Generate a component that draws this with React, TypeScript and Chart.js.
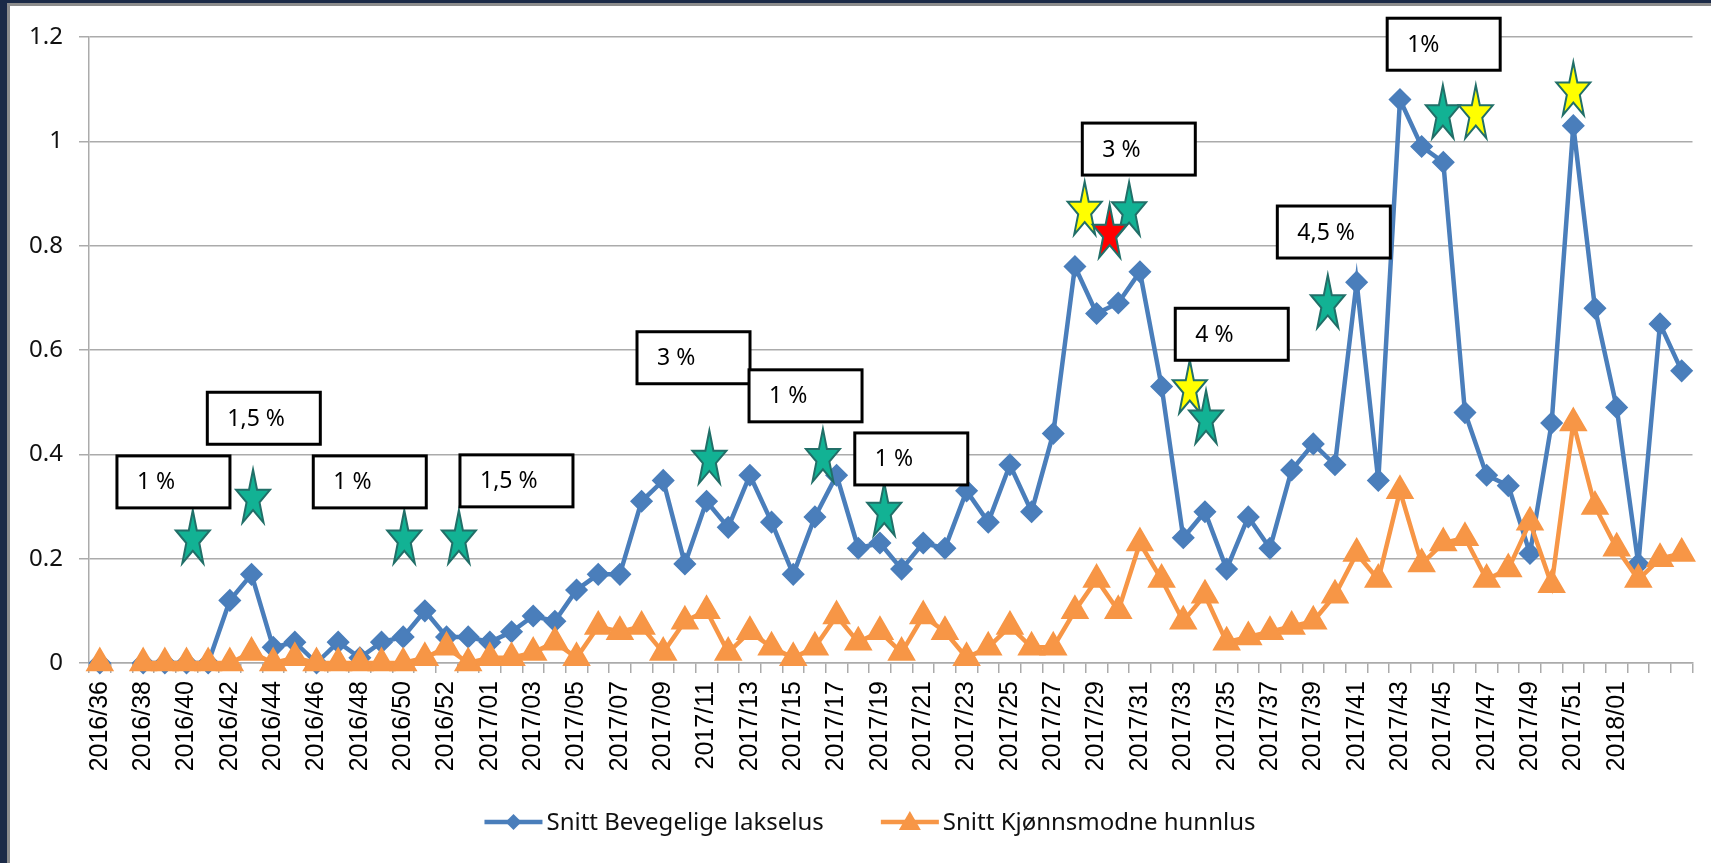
import React, { useEffect, useRef } from 'react';
import { Chart, registerables } from 'chart.js';

Chart.register(...registerables);

// ---- data ----
const WEEKS = [
  '2016/36', '2016/37', '2016/38', '2016/39', '2016/40', '2016/41', '2016/42', '2016/43', '2016/44', '2016/45',
  '2016/46', '2016/47', '2016/48', '2016/49', '2016/50', '2016/51', '2016/52', '2016/53',
  '2017/01', '2017/02', '2017/03', '2017/04', '2017/05', '2017/06', '2017/07', '2017/08', '2017/09', '2017/10',
  '2017/11', '2017/12', '2017/13', '2017/14', '2017/15', '2017/16', '2017/17', '2017/18', '2017/19', '2017/20',
  '2017/21', '2017/22', '2017/23', '2017/24', '2017/25', '2017/26', '2017/27', '2017/28', '2017/29', '2017/30',
  '2017/31', '2017/32', '2017/33', '2017/34', '2017/35', '2017/36', '2017/37', '2017/38', '2017/39', '2017/40',
  '2017/41', '2017/42', '2017/43', '2017/44', '2017/45', '2017/46', '2017/47', '2017/48', '2017/49', '2017/50',
  '2017/51', '2017/52', '2018/01', '2018/02', '2018/03', '2018/04',
];
// last week whose label is printed on the axis
const LAST_LABELLED = '2018/01';

const BEVEGELIGE = [
  0, null, 0, 0, 0, 0, 0.12, 0.17, 0.03, 0.04,
  0, 0.04, 0.01, 0.04, 0.05, 0.10, 0.05, 0.05, 0.04, 0.06,
  0.09, 0.08, 0.14, 0.17, 0.17, 0.31, 0.35, 0.19, 0.31, 0.26,
  0.36, 0.27, 0.17, 0.28, 0.36, 0.22, 0.23, 0.18, 0.23, 0.22,
  0.33, 0.27, 0.38, 0.29, 0.44, 0.76, 0.67, 0.69, 0.75, 0.53,
  0.24, 0.29, 0.18, 0.28, 0.22, 0.37, 0.42, 0.38, 0.73, 0.35,
  1.08, 0.99, 0.96, 0.48, 0.36, 0.34, 0.21, 0.46, 1.03, 0.68,
  0.49, 0.19, 0.65, 0.56,
];

const KJONNSMODNE = [
  0, null, 0, 0, 0, 0, 0, 0.02, 0, 0.01,
  0, 0, 0, 0, 0, 0.01, 0.03, 0, 0.01, 0.01,
  0.02, 0.04, 0.01, 0.07, 0.06, 0.07, 0.02, 0.08, 0.10, 0.02,
  0.06, 0.03, 0.01, 0.03, 0.09, 0.04, 0.06, 0.02, 0.09, 0.06,
  0.01, 0.03, 0.07, 0.03, 0.03, 0.10, 0.16, 0.10, 0.23, 0.16,
  0.08, 0.13, 0.04, 0.05, 0.06, 0.07, 0.08, 0.13, 0.21, 0.16,
  0.33, 0.19, 0.23, 0.24, 0.16, 0.18, 0.27, 0.15, 0.46, 0.30,
  0.22, 0.16, 0.20, 0.21,
];

const SERIES_NAMES = ['Snitt Bevegelige lakselus', 'Snitt Kjønnsmodne hunnlus'];

// annotation boxes: text, anchor (top-left) in category index / value units
const NOTE_TEXTS = ['1 %', '1,5 %', '1 %', '1,5 %', '3 %', '1 %', '1 %', '3 %', '4 %', '4,5 %', '1%'];
const NOTE_X = [0.79, 4.96, 9.85, 16.62, 24.79, 29.96, 34.84, 45.34, 49.63, 54.34, 59.41];
const NOTE_Y = [0.397, 0.519, 0.397, 0.399, 0.635, 0.562, 0.441, 1.035, 0.68, 0.876, 1.236];

// star markers: centre in category index / value units, and kind
const STAR_X = [4.29, 7.07, 14.05, 16.57, 28.13, 33.37, 36.2, 45.45, 47.5, 46.6, 50.3, 51.05, 56.67, 61.98, 63.5, 68.0];
const STAR_Y = [0.242, 0.32, 0.242, 0.242, 0.395, 0.398, 0.295, 0.872, 0.871, 0.828, 0.53, 0.472, 0.693, 1.057, 1.057, 1.101];
const STAR_KIND = ['g', 'g', 'g', 'g', 'g', 'g', 'g', 'y', 'g', 'r', 'y', 'g', 'g', 'g', 'y', 'y'];

// ---- styles ----
const BLUE = '#4a7ebb';
const ORANGE = '#f79646';
const GRID = '#ababab';
const STAR_FILL: Record<string, string> = { g: '#12b294', y: '#ffff00', r: '#ff0000' };
const STAR_EDGE = '#216f68';
const TEXT_FONT = '"Noto Sans", "Open Sans", sans-serif';

function drawStar(ctx: CanvasRenderingContext2D, cx: number, cy: number, w: number, h: number, fill: string) {
  const rx = w / 1.902;
  const ry = h / 1.809;
  const ocx = cx;
  const ocy = cy - h / 2 + ry;
  ctx.beginPath();
  for (let k = 0; k < 10; k++) {
    const ang = -Math.PI / 2 + (k * Math.PI) / 5;
    const r = k % 2 === 0 ? 1 : 0.382;
    const px = ocx + Math.cos(ang) * rx * r;
    const py = ocy + Math.sin(ang) * ry * r;
    if (k === 0) ctx.moveTo(px, py);
    else ctx.lineTo(px, py);
  }
  ctx.closePath();
  ctx.fillStyle = fill;
  ctx.fill();
  ctx.lineWidth = 2;
  ctx.strokeStyle = STAR_EDGE;
  ctx.stroke();
}

const notesPlugin = {
  id: 'notes',
  afterDraw(chart: any) {
    const { ctx } = chart;
    const xs = chart.scales.x;
    const ys = chart.scales.y;
    ctx.save();
    STAR_X.forEach((sx, i) => {
      drawStar(ctx, xs.getPixelForValue(sx), ys.getPixelForValue(STAR_Y[i]), 34, 53, STAR_FILL[STAR_KIND[i]]);
    });
    NOTE_TEXTS.forEach((t, i) => {
      const bx = xs.getPixelForValue(NOTE_X[i]);
      const by = ys.getPixelForValue(NOTE_Y[i]);
      ctx.fillStyle = '#ffffff';
      ctx.fillRect(bx, by, 113, 52);
      ctx.lineWidth = 3;
      ctx.strokeStyle = '#000000';
      ctx.strokeRect(bx, by, 113, 52);
      ctx.fillStyle = '#000000';
      ctx.font = `23px ${TEXT_FONT}`;
      ctx.textBaseline = 'middle';
      ctx.textAlign = 'left';
      ctx.fillText(t, bx + 20, by + 27);
    });
    ctx.restore();
  },
};

const legendPlugin = {
  id: 'customLegend',
  afterDraw(chart: any) {
    const { ctx } = chart;
    ctx.save();
    ctx.font = `24px ${TEXT_FONT}`;
    const lineLen = 58;
    const gapText = 4;
    const gapItems = 57;
    const widths = SERIES_NAMES.map((n) => lineLen + gapText + ctx.measureText(n).width);
    const total = widths[0] + gapItems + widths[1];
    let x = 860 - total / 2;
    const y = 816;
    const colors = [BLUE, ORANGE];
    SERIES_NAMES.forEach((name, i) => {
      ctx.strokeStyle = colors[i];
      ctx.fillStyle = colors[i];
      ctx.lineWidth = 4.5;
      ctx.beginPath();
      ctx.moveTo(x, y);
      ctx.lineTo(x + lineLen, y);
      ctx.stroke();
      const mx = x + lineLen / 2;
      ctx.beginPath();
      if (i === 0) {
        ctx.moveTo(mx - 8, y);
        ctx.lineTo(mx, y - 8);
        ctx.lineTo(mx + 8, y);
        ctx.lineTo(mx, y + 8);
      } else {
        ctx.moveTo(mx, y - 11);
        ctx.lineTo(mx + 11, y + 8);
        ctx.lineTo(mx - 11, y + 8);
      }
      ctx.closePath();
      ctx.fill();
      ctx.fillStyle = '#111111';
      ctx.textBaseline = 'middle';
      ctx.textAlign = 'left';
      ctx.fillText(name, x + lineLen + gapText, y + 1);
      x += widths[i] + gapItems;
    });
    ctx.restore();
  },
};

export default function App() {
  const ref = useRef<HTMLCanvasElement>(null);

  useEffect(() => {
    document.body.style.margin = '0';
    const lastLabelled = WEEKS.indexOf(LAST_LABELLED);
    const chart = new Chart(ref.current as HTMLCanvasElement, {
      type: 'line',
      data: {
        labels: WEEKS,
        datasets: [
          {
            label: SERIES_NAMES[0],
            data: BEVEGELIGE,
            borderColor: BLUE,
            backgroundColor: BLUE,
            borderWidth: 4.5,
            pointStyle: 'rectRot',
            pointRadius: 10.5,
            pointBorderWidth: 1.5,
            pointBackgroundColor: BLUE,
            pointBorderColor: BLUE,
            tension: 0,
            spanGaps: false,
            clip: false,
            order: 2,
          },
          {
            label: SERIES_NAMES[1],
            data: KJONNSMODNE,
            borderColor: ORANGE,
            backgroundColor: ORANGE,
            borderWidth: 4.5,
            pointStyle: 'triangle',
            pointRadius: 15,
            pointBorderWidth: 1.5,
            pointBackgroundColor: ORANGE,
            pointBorderColor: ORANGE,
            tension: 0,
            spanGaps: false,
            clip: false,
            order: 1,
          },
        ],
      } as any,
      options: {
        responsive: false,
        animation: false,
        devicePixelRatio: 1,
        layout: { padding: { left: 0, right: 18.5, top: 31, bottom: 80 } },
        plugins: { legend: { display: false }, tooltip: { enabled: false } },
        scales: {
          x: {
            offset: true,
            grid: { offset: true, drawOnChartArea: false, drawTicks: true, tickLength: 10, color: GRID, lineWidth: 1.5 },
            border: { color: GRID, width: 1.5 },
            ticks: {
              autoSkip: false,
              maxRotation: 90,
              minRotation: 90,
              padding: 8,
              color: '#000000',
              font: { family: '"Liberation Sans", Arial, sans-serif', size: 25 },
              callback: (_v: any, i: number) => (i % 2 === 0 && i <= lastLabelled ? WEEKS[i] : ''),
            },
            afterFit: (s: any) => {
              s.height = 120;
              s.paddingLeft = 0;
              s.paddingRight = 0;
            },
          },
          y: {
            min: 0,
            max: 1.2,
            grid: { color: GRID, lineWidth: 1.5, tickLength: 10 },
            border: { color: GRID, width: 1.5 },
            ticks: {
              stepSize: 0.2,
              padding: 16,
              color: '#111111',
              font: { family: TEXT_FONT, size: 24 },
              callback: (v: any) => String(Number(Number(v).toFixed(1))),
            },
            afterFit: (s: any) => {
              s.width = 79;
              s.paddingTop = 0;
              s.paddingBottom = 0;
            },
          },
        },
      } as any,
      plugins: [notesPlugin, legendPlugin],
    });
    return () => chart.destroy();
  }, []);

  return (
    <div style={{ position: 'fixed', left: 0, top: 0, width: 1711, height: 863, background: '#1b2a47', overflow: 'hidden' }}>
      <div
        style={{
          position: 'absolute',
          left: 7,
          top: 3,
          width: 1704,
          height: 860,
          background: '#ffffff',
          borderLeft: '3px solid #8c8c8c',
          borderTop: '3px solid #8c8c8c',
          boxSizing: 'border-box',
        }}
      >
        <canvas ref={ref} width={1701} height={857} style={{ position: 'absolute', left: 0, top: 0, width: 1701, height: 857 }} />
      </div>
    </div>
  );
}
